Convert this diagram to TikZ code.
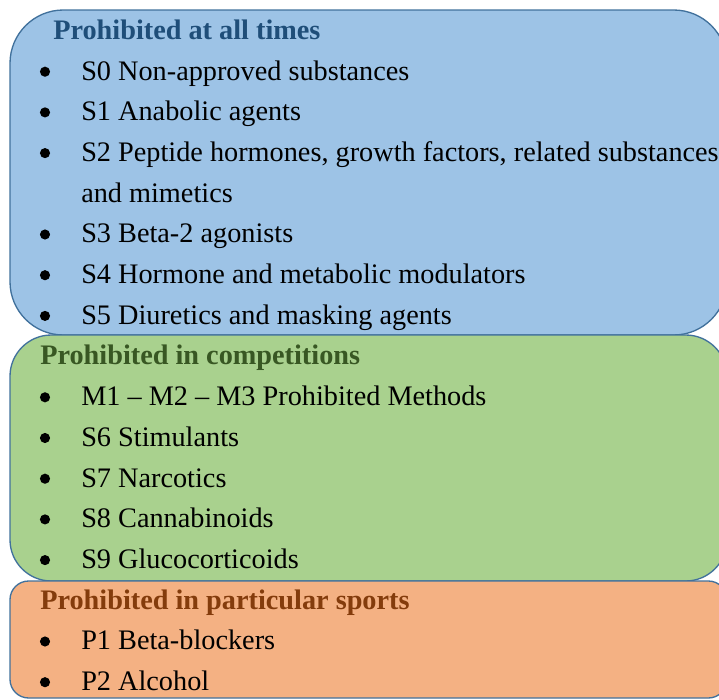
\documentclass[tikz,border=0pt]{standalone}
\usepackage{fontspec}
\setmainfont{Liberation Serif}
\usetikzlibrary{positioning}
\definecolor{allFill}{RGB}{157,195,230}
\definecolor{allHead}{RGB}{31,78,121}
\definecolor{compFill}{RGB}{169,209,142}
\definecolor{compHead}{RGB}{56,87,35}
\definecolor{sportFill}{RGB}{244,177,131}
\definecolor{sportHead}{RGB}{132,60,12}
\definecolor{boxLine}{RGB}{65,113,156}

\tikzset{
  panel/.style={draw=boxLine,line width=1pt},
  head/.style={anchor=base west,font=\fontsize{21.2}{25}\selectfont\bfseries,inner sep=0pt},
  item/.style={anchor=base west,inner sep=0pt},
  dot/.style={circle,fill=black,inner sep=0pt,minimum size=7.6pt}
}

\begin{document}
\begin{tikzpicture}[x=0.75pt,y=-0.75pt,font=\fontsize{21.2}{25}\selectfont]
  \useasboundingbox (0,0) rectangle (719,700);
  % panels
  \draw[panel,fill=allFill,rounded corners=40pt] (10,10) rectangle (727,335);
  \draw[panel,fill=compFill,rounded corners=31pt] (10,335) rectangle (727,581);
  \draw[panel,fill=sportFill,rounded corners=14pt] (10,581) rectangle (727,698);
  % headings
  \node[head,color=allHead] (allTimes) at (53,39.3) {Prohibited at all times};
  \node[head,color=compHead] (inComp) at (40,364.9) {Prohibited in competitions};
  \node[head,color=sportHead] (inSport) at (40,609.1) {Prohibited in particular sports};
  % bullet lists
  \foreach \n/\y/\t in {s0/71.7/S0 Non-approved substances,
                        s1/112.4/S1 Anabolic agents,
                        s2/153.1/{S2 Peptide hormones, growth factors, related substances},
                        s3/234.5/S3 Beta-2 agonists,
                        s4/275.2/S4 Hormone and metabolic modulators,
                        s5/315.9/S5 Diuretics and masking agents,
                        m/397.3/M1 – M2 – M3 Prohibited Methods,
                        s6/438/S6 Stimulants,
                        s7/478.7/S7 Narcotics,
                        s8/519.4/S8 Cannabinoids,
                        s9/560.1/S9 Glucocorticoids,
                        p1/641.5/P1 Beta-blockers,
                        p2/682.2/P2 Alcohol} {
    \node[dot] (dot-\n) at (45,\y) {};
    \node[item] (\n) at (81,\y+8.3) {\t};
  }
  \node[item] (s2b) at (81,202.1) {and mimetics};
\end{tikzpicture}
\end{document}
